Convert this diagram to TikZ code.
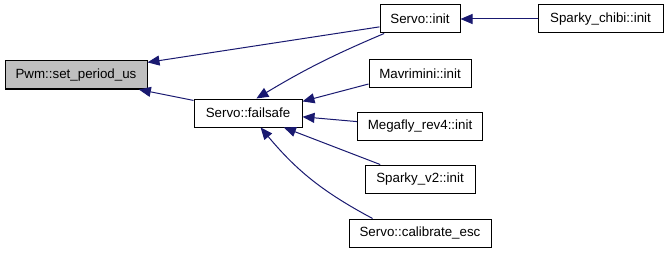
\documentclass[tikz,border=0pt]{standalone}
\usepackage{fontspec}
\setmainfont{Liberation Sans}
\usetikzlibrary{arrows.meta}
\definecolor{edgeblue}{HTML}{191970}
\definecolor{hilite}{HTML}{BFBFBF}

\begin{document}
\begin{tikzpicture}[
    x=0.75pt, y=0.75pt,
    box/.style={rectangle, draw=black, line width=0.75pt, inner sep=0pt, minimum height=21pt, font=\fontsize{10pt}{12pt}\selectfont},
    arrow/.style={-{Triangle[length=9pt, width=7.5pt, fill=edgeblue]}, draw=edgeblue, line width=0.75pt}
]
\useasboundingbox (0,0) rectangle (667,-253);

% Boxes (functions)
\node[box, fill=hilite, minimum width=106.5pt] (pwm) at (76,-75) {Pwm::set\_period\_us};
\node[box, minimum width=81pt] (failsafe) at (248,-113) {Servo::failsafe};
\node[box, minimum width=60pt] (sinit) at (420,-19) {Servo::init};
\node[box, minimum width=93.75pt] (chibi) at (600.5,-19) {Sparky\_chibi::init};
\node[box, minimum width=76.5pt] (mavri) at (420,-74) {Mavrimini::init};
\node[box, minimum width=93.75pt] (megafly) at (420,-126) {Megafly\_rev4::init};
\node[box, minimum width=82.5pt] (sparky) at (420,-179) {Sparky\_v2::init};
\node[box, minimum width=106.5pt] (calib) at (420,-233) {Servo::calibrate\_esc};

% Arrows (caller -> callee)
\draw[arrow] (chibi.west) -- (sinit.east);
\draw[arrow] (sinit.191) -- (pwm.10);
\draw[arrow] (failsafe.167) -- (pwm.-13);
\draw[arrow] (sinit.202) to[bend right=4] (failsafe.60);
\draw[arrow] (mavri.191) -- (failsafe.12);
\draw[arrow] (megafly.176) -- (failsafe.-4);
\draw[arrow] (sparky.160) -- (failsafe.-22);
\draw[arrow] (calib.163) to[bend left=11] (failsafe.-49);

\end{tikzpicture}
\end{document}
